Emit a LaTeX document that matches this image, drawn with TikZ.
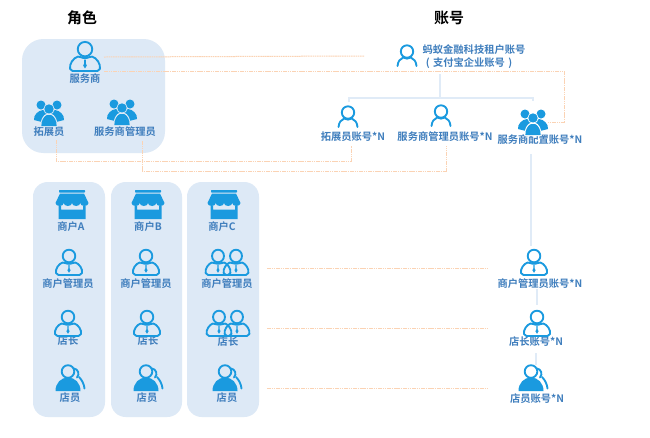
\documentclass[tikz,border=0pt]{standalone}
\usepackage{fontspec}
\setmainfont{Noto Sans CJK SC}[BoldFont={Noto Sans CJK SC Bold}]
\definecolor{icon}{HTML}{1A9ADF}
\definecolor{txt}{HTML}{3F7EBD}
\definecolor{panel}{HTML}{DDE9F6}
\definecolor{peach}{HTML}{FBD3B4}
\definecolor{tree}{HTML}{E0EBF7}
\tikzset{
  x=0.75pt,y=-0.75pt,
  panelbox/.style={fill=panel,draw=none},
  lab/.style={font=\fontsize{7.7pt}{9pt}\selectfont\bfseries,text=txt,inner sep=0pt,align=center},
  title/.style={font=\fontsize{11.2pt}{13pt}\selectfont\bfseries,text=black,inner sep=0pt},
  dotline/.style={draw=peach,line width=0.75pt,dash pattern=on 1.2pt off 0.5pt},
  treeline/.style={draw=tree,line width=1.6pt},
  iconline/.style={draw=icon,line width=1.4pt,line join=round,line cap=round},
  mgr/.pic={
    \draw[iconline] (0,-19) circle[radius=6.3];
    \draw[iconline,rounded corners=1.5pt] (-12.5,0) .. controls (-14,-6) and (-10,-11.5) .. (-4.5,-13)
       .. controls (-2,-11) and (2,-11) .. (4.5,-13)
       .. controls (10,-11.5) and (14,-6) .. (12.5,0) -- cycle;
    \fill[icon] (-0.7,-10) -- (0.7,-10) -- (0.7,-6.5) -- (1.6,-4.8) -- (0,-2.2) -- (-1.6,-4.8) -- (-0.7,-6.5) -- cycle;
  },
  acct/.pic={
    \draw[iconline] (0,-14.5) circle[radius=6.2];
    \draw[iconline] (-9.5,0) .. controls (-9,-5) and (-7,-7) .. (-3.8,-8.5)
       .. controls (-1.5,-7) and (1.5,-7) .. (3.8,-8.5)
       .. controls (7,-7) and (9,-5) .. (9.5,0);
  },
  crowd/.pic={
    \fill[icon] (-8,-21) circle[radius=4.5];
    \fill[icon] (8,-21) circle[radius=4.5];
    \fill[icon] (-15,-6) .. controls (-15.5,-11) and (-11,-15.5) .. (-6,-16) -- (0,-12) -- (-7,-4) -- cycle;
    \fill[icon] (15,-6) .. controls (15.5,-11) and (11,-15.5) .. (6,-16) -- (0,-12) -- (7,-4) -- cycle;
    \fill[panel] (0,-17) circle[radius=5.6];
    \fill[icon] (0,-17) circle[radius=4.7];
    \fill[panel] (-8.6,1) .. controls (-9,-6) and (-6,-11) .. (-2,-12.5) -- (2,-12.5) .. controls (6,-11) and (9,-6) .. (8.6,1) -- cycle;
    \fill[icon] (-7.6,0) .. controls (-8,-5) and (-5,-10) .. (-2,-11) -- (2,-11) .. controls (5,-10) and (8,-5) .. (7.6,0) -- cycle;
  },
  crowdw/.pic={
    \fill[icon] (-8,-21) circle[radius=4.5];
    \fill[icon] (8,-21) circle[radius=4.5];
    \fill[icon] (-15,-6) .. controls (-15.5,-11) and (-11,-15.5) .. (-6,-16) -- (0,-12) -- (-7,-4) -- cycle;
    \fill[icon] (15,-6) .. controls (15.5,-11) and (11,-15.5) .. (6,-16) -- (0,-12) -- (7,-4) -- cycle;
    \fill[white] (0,-17) circle[radius=5.6];
    \fill[icon] (0,-17) circle[radius=4.7];
    \fill[white] (-8.6,1) .. controls (-9,-6) and (-6,-11) .. (-2,-12.5) -- (2,-12.5) .. controls (6,-11) and (9,-6) .. (8.6,1) -- cycle;
    \fill[icon] (-7.6,0) .. controls (-8,-5) and (-5,-10) .. (-2,-11) -- (2,-11) .. controls (5,-10) and (8,-5) .. (7.6,0) -- cycle;
  },
  staff/.pic={
    \draw[iconline] (6,-22.5) .. controls (10,-22) and (12,-17) .. (9,-13.5);
    \draw[iconline] (11,-14) .. controls (14,-11) and (16,-7) .. (16.5,-2.5);
    \fill[icon] (-12.5,0) .. controls (-12.5,-8) and (-7,-13.5) .. (0,-13.5) .. controls (7,-13.5) and (12.5,-8) .. (12.5,0) -- cycle;
    \filldraw[iconline,fill=panel] (0,-19.5) circle[radius=6.3];
  },
  staffw/.pic={
    \draw[iconline] (6,-22.5) .. controls (10,-22) and (12,-17) .. (9,-13.5);
    \draw[iconline] (11,-14) .. controls (14,-11) and (16,-7) .. (16.5,-2.5);
    \fill[icon] (-12.5,0) .. controls (-12.5,-8) and (-7,-13.5) .. (0,-13.5) .. controls (7,-13.5) and (12.5,-8) .. (12.5,0) -- cycle;
    \filldraw[iconline,fill=white] (0,-19.5) circle[radius=6.3];
  },
  shop/.pic={
    \fill[icon,rounded corners=0.5pt] (-13,-29) rectangle (13,-26.5);
    \fill[icon] (-12,-25.5) -- (12,-25.5) -- (16.5,-16)
       arc[start angle=0,end angle=180,x radius=4.125,y radius=3]
       arc[start angle=0,end angle=180,x radius=4.125,y radius=3]
       arc[start angle=0,end angle=180,x radius=4.125,y radius=3]
       arc[start angle=0,end angle=180,x radius=4.125,y radius=3] -- cycle;
    \fill[icon] (-13.5,-13.5) -- (-11,-13.5) -- (-11,-9.5) -- (11,-9.5) -- (11,-13.5) -- (13.5,-13.5) -- (13.5,0) -- (-13.5,0) -- cycle;
  },
}
\begin{document}
\begin{tikzpicture}
\useasboundingbox (0,0) rectangle (650,437);
\fill[white] (0,0) rectangle (650,437);
% panels
\fill[panelbox,rounded corners=16pt] (22,39) rectangle (165,153);
\fill[panelbox,rounded corners=11pt] (33,182) rectangle (105,417);
\fill[panelbox,rounded corners=11pt] (111,182) rectangle (182,417);
\fill[panelbox,rounded corners=11pt] (187,182) rectangle (259,417);
% peach connectors
\coordinate (p1a) at (104,57); \coordinate (p1b) at (364,56);
\draw[dotline] (p1a) -- (p1b);
\coordinate (p2a) at (104,71); \coordinate (p2b) at (564,71); \coordinate (p2c) at (564,122); \coordinate (p2d) at (548,122);
\draw[dotline] (p2a) -- (p2b) -- (p2c) -- (p2d);
\coordinate (p3a) at (56,140); \coordinate (p3b) at (56,161); \coordinate (p3c) at (351,161); \coordinate (p3d) at (351,146);
\draw[dotline] (p3a) -- (p3b) -- (p3c) -- (p3d);
\coordinate (p4a) at (142,141); \coordinate (p4b) at (142,171); \coordinate (p4c) at (446,171); \coordinate (p4d) at (446,146);
\draw[dotline] (p4a) -- (p4b) -- (p4c) -- (p4d);
\coordinate (p5a) at (267,268); \coordinate (p5b) at (488,268);
\coordinate (p6a) at (267,328); \coordinate (p6b) at (488,328);
\coordinate (p7a) at (267,388); \coordinate (p7b) at (489,388);
\draw[dotline] (p5a) -- (p5b);
\draw[dotline] (p6a) -- (p6b);
\draw[dotline] (p7a) -- (p7b);
% tree connectors
\coordinate (t0) at (440,74); \coordinate (t1) at (440,98);
\coordinate (t2) at (349,102); \coordinate (t3) at (349,98); \coordinate (t4) at (533,98); \coordinate (t5) at (533,101);
\draw[treeline] (t0) -- (t1);
\draw[treeline] (t2) -- (t3) -- (t4) -- (t5);
\coordinate (t6) at (531,154); \coordinate (t7) at (531,246);
\draw[treeline] (t6) -- (t7);
\coordinate (t8) at (537,289); \coordinate (t9) at (537,305);
\draw[treeline] (t8) -- (t9);
\coordinate (t10) at (536,353); \coordinate (t11) at (536,365);
\draw[treeline] (t10) -- (t11);
% titles
\node[title] (troles) at (82,18) {角色};
\node[title] (taccts) at (449,18) {账号};
% role labels
\node[lab] (lsp) at (85,79) {服务商};
\node[lab] (lbd) at (49,132) {拓展员};
\node[lab] (lspa) at (125,132) {服务商管理员};
% account labels
\node[lab] (ltenant) at (474,50) {蚂蚁金融科技租户账号};
\node[lab] (ltenantb) at (469,63) {(\,\,支付宝企业账号\,\,)};
\node[lab] (abd) at (353,137) {拓展员账号*N};
\node[lab] (aspa) at (445,137) {服务商管理员账号*N};
\node[lab] (aspc) at (540,140) {服务商配置账号*N};
\node[lab] (amm) at (540,284) {商户管理员账号*N};
\node[lab] (asm) at (536,342) {店长账号*N};
\node[lab] (ast) at (537,399) {店员账号*N};
% merchant labels
\node[lab] (ma) at (71,227) {商户A};
\node[lab] (mb) at (148,227) {商户B};
\node[lab] (mc) at (222,227) {商户C};
\node[lab] (ama) at (68,284) {商户管理员};
\node[lab] (amb) at (146,284) {商户管理员};
\node[lab] (amc) at (227,284) {商户管理员};
\node[lab] (sma) at (68,341) {店长};
\node[lab] (smb) at (148,341) {店长};
\node[lab] (smc) at (228,342) {店长};
\node[lab] (sta) at (70,398) {店员};
\node[lab] (stb) at (147,398) {店员};
\node[lab] (stc) at (227,398) {店员};
% icons
\pic[scale=1.15] at (85,71) {mgr};
\pic at (49,126) {crowd};
\pic at (122,125) {crowd};
\pic at (407,66) {acct};
\pic at (348,127) {acct};
\pic at (441,126) {acct};
\pic at (533,135) {crowdw};
\pic at (72,219) {shop};
\pic at (148,219) {shop};
\pic at (224,219) {shop};
\pic at (69,275) {mgr};
\pic at (146,275) {mgr};
\pic[xscale=.95] at (218,275) {mgr};
\pic[xscale=.95] at (236,275) {mgr};
\pic at (68,336) {mgr};
\pic at (147,336) {mgr};
\pic[xscale=.95] at (219,336) {mgr};
\pic[xscale=.95] at (237,336) {mgr};
\pic at (68,391) {staff};
\pic at (146,391) {staff};
\pic at (225,391) {staff};
\pic at (534,275) {mgr};
\pic at (537,336) {mgr};
\pic at (531,391) {staffw};
\end{tikzpicture}
\end{document}
